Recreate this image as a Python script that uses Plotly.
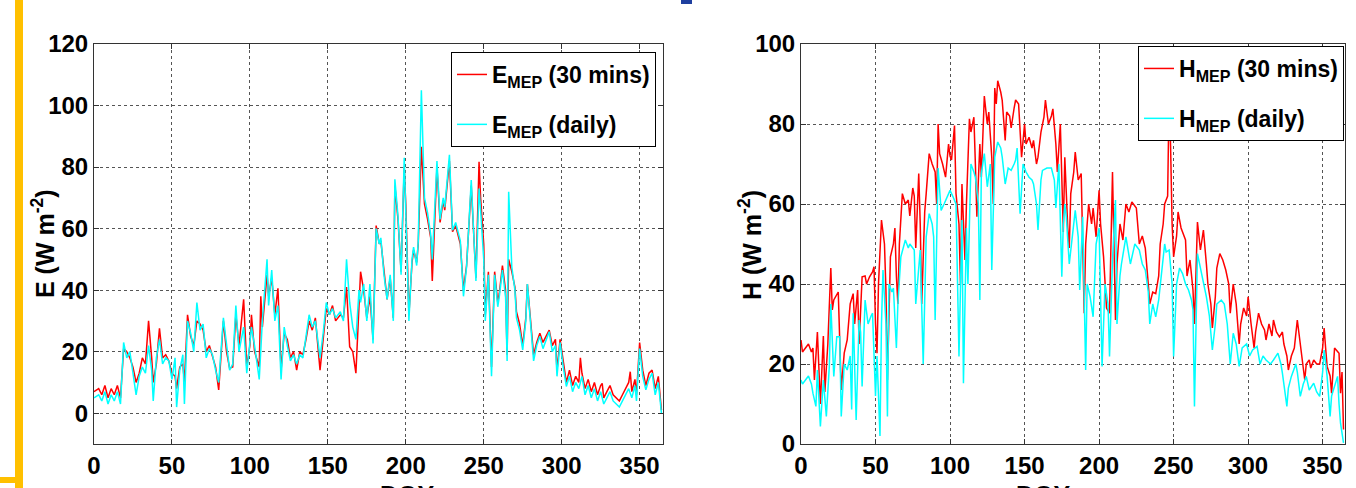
import plotly.graph_objects as go

# ---- left panel: latent heat E (W m-2) vs DOY ----
e_daily_doy = [0, 3, 5, 7, 9, 11, 13, 15, 17, 19, 21, 23, 25, 27, 29, 31, 33, 35, 37, 38, 40, 42, 44, 46, 48, 50,
               52, 53, 55, 57, 58, 60, 62, 64, 66, 68, 70, 72, 74, 76, 78, 80, 83, 85, 87, 89, 91, 93, 96, 98, 100,
               101, 103, 106, 108, 111, 112, 114, 116, 118, 120, 122, 124, 126, 128, 130, 132, 134, 136, 138, 140,
               142, 145, 147, 149, 151, 153, 155, 158, 160, 162, 164, 166, 168, 170, 171, 173, 175, 177, 179, 181,
               183, 184, 186, 188, 190, 192, 193, 195, 197, 199, 200, 202, 204, 205, 207, 208, 210, 212, 214, 216,
               217, 220, 222, 224, 225, 228, 230, 232, 235, 237, 239, 242, 245, 247, 248, 250, 251, 253, 255, 257,
               259, 260, 262, 264, 265, 266, 268, 270, 271, 273, 275, 277, 278, 280, 282, 284, 286, 288, 290, 292,
               294, 296, 297, 299, 301, 303, 305, 307, 309, 311, 313, 315, 317, 319, 321, 323, 325, 327, 329, 331,
               333, 335, 337, 339, 341, 343, 345, 347, 348, 350, 352, 354, 356, 358, 360, 362, 364]
e_daily = [5, 6, 4, 7, 3, 6, 4, 7, 3, 23, 18, 20, 13, 6, 12, 15, 13, 22, 14, 4, 18, 24, 16, 18, 17, 11,
           18, 2, 14, 19, 3, 30, 26, 20, 36, 27, 29, 18, 21, 19, 14, 10, 31, 22, 14, 16, 35, 20, 28, 13, 24,
           28, 22, 11, 30, 50, 35, 46.5, 30, 35, 11, 28, 22, 17, 19, 16, 19, 18, 25, 32, 28,
           30, 18, 26, 36, 32, 34, 31, 33, 30, 50, 36, 28, 24, 40, 36, 42, 30, 42, 22.7, 60,
           55, 57, 45, 37, 45, 30, 76, 64, 45, 83, 66, 30, 50, 54, 48, 56, 105, 70, 65, 58,
           50, 82, 63, 70, 67, 84, 59.5, 62, 56, 38, 47.6, 75.8, 43, 73, 66, 50, 30, 45, 12, 45,
           34.6, 38, 46.5, 38, 17, 72, 47.6, 40, 31, 27, 20.6, 30, 42, 28, 17, 22, 25, 21, 24, 26.5,
           20, 22, 12, 23, 15, 8.7, 12, 7, 10, 8, 12, 6, 9, 5, 8, 4, 7, 3, 5, 7,
           4, 3, 2, 4, 6, 8, 5, 9, 4, 21, 12, 7.6, 11, 13, 6, 10, 0]

e_30min_doy = [0, 3, 5, 7, 9, 11, 13, 15, 17, 19, 21, 23, 25, 27, 29, 31, 33, 35, 37, 38, 40, 42, 44, 46, 48, 50,
               52, 53, 55, 57, 58, 60, 62, 64, 66, 68, 70, 72, 74, 76, 78, 80, 83, 85, 87, 89, 91, 93, 96, 98, 100,
               101, 103, 106, 107, 108, 111, 112, 114, 116, 118, 120, 122, 124, 126, 128, 130, 132, 134, 136, 138,
               140, 142, 145, 147, 149, 151, 153, 155, 158, 160, 162, 164, 166, 168, 170, 171, 173, 175, 177, 179,
               181, 183, 184, 186, 188, 190, 192, 193, 195, 197, 199, 200, 202, 204, 205, 207, 208, 210, 212, 214,
               216, 217, 220, 222, 224, 225, 228, 230, 232, 235, 237, 239, 242, 245, 247, 248, 250, 251, 253, 255,
               257, 259, 260, 262, 264, 265, 266, 268, 270, 271, 273, 275, 277, 278, 280, 282, 284, 286, 288, 290,
               292, 294, 296, 297, 299, 301, 303, 305, 307, 309, 311, 312, 313, 315, 317, 319, 321, 323, 325, 326,
               327, 329, 331, 333, 335, 337, 339, 341, 343, 344, 345, 347, 348, 350, 352, 354, 356, 358, 360, 362, 364]
e_30min = [7, 8, 6, 9, 5, 8, 6, 9, 5, 21, 20, 18, 15, 10, 13, 18, 16, 30, 18, 10, 16, 27.6, 18, 19, 17, 13,
           12, 8, 15, 16, 10, 32, 25, 22, 30, 29, 27, 20, 22, 18, 15, 7.6, 30, 20, 14.6, 15, 32, 22, 37, 15, 22,
           32, 20, 15, 38, 28, 45, 38, 44, 32, 40.6, 14, 26, 24, 18, 20, 14, 20, 19, 24, 30,
           27, 31, 14, 24, 34, 32, 35, 30, 32, 31, 41, 21.6, 20, 13, 38, 46, 40, 31, 38, 24,
           61, 55, 56, 46, 37, 44, 31, 74, 63, 46, 80, 68, 32, 49, 53, 49, 55, 86.6, 68, 63,
           57, 43, 80, 62, 69, 66, 82, 59, 61, 55, 40, 48, 74, 44, 81.7, 70, 55, 32, 46, 15,
           46, 36, 39, 48, 40, 19, 50, 46, 41, 33, 29, 22, 31, 42, 29, 19, 23, 26, 23, 25,
           27, 22, 24, 14, 24, 17, 10, 14, 9, 12, 10, 18, 13, 8, 11, 7, 10, 6, 9, 9.7,
           5, 7, 9, 6, 5, 4, 6, 8, 10, 13.5, 7, 11, 6, 23, 14, 9, 13, 14, 8, 12, 1]

# ---- right panel: sensible heat H (W m-2) vs DOY ----
h_30min_doy = [0, 1, 3, 5, 7, 8, 9, 11, 13, 15, 16, 18, 20, 21, 22, 24, 25, 27, 29, 31, 33, 35, 36, 38, 39, 41,
               43, 44, 46, 48, 49, 50, 51, 52, 54, 56, 57, 58, 60, 62, 63, 64, 65, 66, 68, 70, 72, 73, 75, 76, 77,
               79, 80, 81, 83, 84, 86, 88, 90, 91, 92, 93, 95, 97, 99, 100, 101, 103, 104, 106, 107, 108, 110, 111,
               113, 114, 116, 117, 118, 120, 121, 123, 125, 126, 128, 129, 130, 131, 132, 134, 135, 137, 138, 140,
               141, 143, 144, 146, 148, 150, 151, 153, 155, 156, 158, 159, 161, 163, 164, 166, 168, 169, 171, 172,
               174, 176, 177, 179, 180, 181, 183, 184, 186, 188, 190, 191, 193, 195, 196, 198, 200, 201, 203, 205,
               207, 209, 211, 212, 214, 216, 218, 220, 222, 225, 227, 229, 231, 233, 234, 236, 238, 240, 241, 243,
               244, 246, 247, 248, 249, 250, 252, 253, 255, 258, 259, 261, 263, 264, 266, 268, 270, 272, 273, 275,
               276, 278, 279, 281, 283, 285, 287, 288, 290, 292, 294, 295, 297, 299, 300, 302, 304, 305, 307, 309,
               311, 312, 314, 316, 317, 319, 321, 323, 324, 326, 327, 329, 331, 333, 334, 336, 338, 339, 341, 342,
               344, 346, 348, 350, 351, 352, 353, 355, 356, 358, 360, 361, 362, 363, 364]
h_30min = [26, 23, 24, 25, 23, 24, 16, 28, 10, 27, 13, 25, 44, 33.5, 36, 37.6, 38, 13.5, 22.7, 26, 35, 37.6, 30, 38.5, 25, 41.8,
           42, 40, 41.8, 43, 44.3, 30, 22.7, 40, 56, 50, 38.5, 16, 46.8, 50, 54, 42, 35, 50, 62.6, 60, 61, 57, 64, 62, 49,
           67.6, 55, 35, 58, 62.6, 72.6, 70, 68, 60, 80, 72.6, 70, 66.7, 75, 72, 71, 79.6, 62.6, 55, 40, 65, 46, 60,
           81.3, 78, 81.7, 70, 56.8, 75, 66.7, 87, 80, 83, 71.7, 60, 89, 85, 90.8, 88, 85.9, 75.9, 83, 82,
           79, 84, 86, 85, 71.7, 80, 75, 76.7, 74, 75.9, 70, 71.7, 78, 81.7, 86, 80, 82, 83.8, 75, 68,
           80, 53, 71.7, 54, 49, 62.6, 68, 73, 66, 67.6, 32.7, 50, 60, 55, 59, 51.8, 63.4, 55, 46.8, 34,
           32.7, 68, 31, 45, 55, 51, 60, 58, 60.5, 59, 50, 52, 49, 40, 35, 38, 37.6, 42, 50, 55,
           60, 62, 87.5, 74, 55, 46.8, 52, 58, 54, 51, 42, 46, 38.5, 30, 55.5, 48.5, 53.5, 45, 40, 35,
           29, 36.8, 44, 47.6, 46, 43.5, 40, 32.7, 40, 35, 25, 30, 34, 32, 36.8, 30, 24, 28, 32.7, 30,
           28.5, 26, 30, 27, 31, 28, 26.8, 28, 25, 22, 18.5, 22, 24, 31, 28, 23.5, 16, 20, 21, 19,
           21, 20, 20, 24, 29, 24, 19.4, 17, 12.7, 24, 23, 22.7, 12.7, 18, 3.6]

h_daily_doy = [0, 1, 3, 5, 7, 8, 10, 11, 13, 15, 17, 19, 20, 22, 24, 26, 27, 29, 31, 33, 34, 35, 37, 39, 40, 41,
               43, 45, 47, 48, 50, 51, 53, 54, 55, 57, 58, 59, 61, 62, 64, 65, 67, 69, 70, 72, 73, 75, 76, 77, 79,
               80, 82, 84, 86, 88, 89, 90, 92, 94, 96, 98, 100, 102, 104, 106, 108, 109, 111, 112, 114, 116, 117,
               119, 120, 121, 123, 125, 127, 128, 130, 132, 134, 135, 137, 139, 141, 143, 144, 145, 147, 149, 151,
               153, 155, 156, 158, 159, 161, 162, 165, 168, 170, 171, 173, 175, 176, 177, 178, 180, 182, 184, 186,
               187, 189, 191, 192, 194, 196, 198, 200, 202, 204, 206, 207, 209, 211, 212, 214, 215, 218, 221, 224,
               227, 229, 231, 233, 234, 236, 238, 240, 241, 243, 244, 245, 247, 249, 250, 252, 254, 256, 258, 260,
               262, 263, 264, 266, 268, 269, 272, 274, 276, 278, 279, 282, 284, 286, 288, 290, 292, 294, 296, 299,
               301, 303, 306, 308, 310, 312, 315, 317, 320, 322, 323, 326, 327, 329, 332, 333, 335, 337, 339, 341,
               344, 346, 348, 350, 351, 353, 355, 356, 358, 360, 361, 362, 364]
h_daily = [16, 15, 16, 17, 15, 12.7, 9.4, 18.5, 4.4, 16, 6.9, 19.4, 35, 16.9, 26.8, 26.8, 6.9, 20, 18.5, 22, 8.6, 32.7, 6, 31, 28, 14.4,
           36, 30, 32, 32.7, 12, 22, 2, 30, 43.5, 30, 6.9, 40, 38, 39, 24, 35, 46.8, 50, 51, 49, 50, 49, 48.5, 35, 45,
           48.5, 20, 51.8, 57.6, 55, 51.8, 31, 69, 58.4, 60, 61.8, 63.4, 61.8, 60, 21.9, 56, 15.2, 54, 40, 70, 68, 66.7,
           60, 36, 67.6, 72.6, 64.3, 70, 43.5, 71.7, 75.5, 74, 71.7, 65, 69, 68.4, 70, 71, 74, 57.6, 70, 68,
           66.7, 66, 65, 60, 53.5, 66, 68.4, 69, 69, 66, 59, 70, 41.8, 55, 60, 56.8, 45, 52, 58.4, 51.8,
           38.5, 56.8, 18.5, 40, 36.8, 31.8, 50, 54, 19.4, 40, 35, 21.9, 46, 61, 30, 42, 45, 51.8, 45, 50,
           48.5, 45, 43.5, 38, 30, 35, 31.8, 36, 40, 46, 50, 48, 48.5, 40, 21.9, 40, 44, 42.6, 40, 38.5,
           36, 33.5, 9.4, 47.6, 44, 42.6, 36.8, 32, 23.5, 30, 35, 36, 35, 30, 20, 27.7, 25, 19.4, 24, 25,
           22, 23.5, 24.4, 20, 22, 21, 20, 21, 22.7, 20, 17.7, 9.4, 14, 16.9, 20, 18, 11.9, 15, 16.9, 13.5,
           15.2, 13, 11.9, 18, 23.5, 16.9, 6.9, 12, 14.4, 16.9, 10, 5.2, 0.3]

x_ticks = [0, 50, 100, 150, 200, 250, 300, 350]

RED = "#ff0000"
CYAN = "#00ffff"
FONT = "Liberation Sans, Arial"

fig = go.Figure()

fig.add_trace(go.Scatter(x=e_30min_doy, y=e_30min, mode="lines", line=dict(color=RED, width=1.5),
                         name="<b>E<sub>MEP</sub> (30 mins)</b>", xaxis="x", yaxis="y",
                         legend="legend", legendgroup="a"))
fig.add_trace(go.Scatter(x=e_daily_doy, y=e_daily, mode="lines", line=dict(color=CYAN, width=1.5),
                         name="<b>E<sub>MEP</sub> (daily)</b>", xaxis="x", yaxis="y",
                         legend="legend", legendgroup="b"))
fig.add_trace(go.Scatter(x=h_30min_doy, y=h_30min, mode="lines", line=dict(color=RED, width=1.5),
                         name="<b>H<sub>MEP</sub> (30 mins)</b>", xaxis="x2", yaxis="y2",
                         legend="legend2", legendgroup="c"))
fig.add_trace(go.Scatter(x=h_daily_doy, y=h_daily, mode="lines", line=dict(color=CYAN, width=1.5),
                         name="<b>H<sub>MEP</sub> (daily)</b>", xaxis="x2", yaxis="y2",
                         legend="legend2", legendgroup="d"))

W, H = 1356, 488


def ax(**kw):
    base = dict(showline=True, linecolor="#333333", linewidth=1, mirror="allticks",
                ticks="inside", ticklen=5, tickcolor="#333333", automargin=False,
                showgrid=True, gridcolor="#555555", griddash="dot", gridwidth=1,
                zeroline=False, tickfont=dict(family=FONT, size=24, color="black", weight="bold"))
    base.update(kw)
    return base


legend_style = dict(xanchor="right", yanchor="top", bgcolor="white", bordercolor="black", borderwidth=1,
                    tracegroupgap=17, font=dict(family=FONT, size=23, color="black"))

fig.update_layout(
    width=W, height=H,
    margin=dict(l=0, r=0, t=0, b=0, pad=0, autoexpand=False),
    paper_bgcolor="white", plot_bgcolor="white",
    xaxis=ax(domain=[94 / W, 663 / W], range=[0, 365], tickvals=x_ticks, anchor="y"),
    yaxis=ax(domain=[1 - 444 / H, 1 - 44 / H], range=[-10, 120], dtick=20, tick0=0, anchor="x"),
    xaxis2=ax(domain=[801 / W, 1345 / W], range=[0, 365], tickvals=x_ticks, anchor="y2"),
    yaxis2=ax(domain=[1 - 444 / H, 1 - 44 / H], range=[0, 100], dtick=20, anchor="x2"),
    legend=dict(x=656 / W, y=1 - 52 / H, **legend_style),
    legend2=dict(x=1344 / W, y=1 - 46 / H, **legend_style),
    showlegend=True,
)

# axis titles as annotations (the DOY labels are cut by the bottom edge)
title_font = dict(family=FONT, size=25, color="black")
fig.add_annotation(text="<b>E (W m<sup>-2</sup>)</b>", xref="paper", yref="paper", x=25 / W, y=1 - 244 / H,
                   textangle=-90, showarrow=False, font=title_font)
fig.add_annotation(text="<b>H (W m<sup>-2</sup>)</b>", xref="paper", yref="paper", x=750 / W, y=1 - 245 / H,
                   textangle=-90, showarrow=False, font=title_font)
fig.add_annotation(text="<b>DOY</b>", xref="paper", yref="paper", x=378 / W, y=1 - 479 / H,
                   yanchor="top", showarrow=False, font=title_font)
fig.add_annotation(text="<b>DOY</b>", xref="paper", yref="paper", x=1073 / W, y=1 - 479 / H,
                   yanchor="top", showarrow=False, font=title_font)

# slide decorations around the figure
fig.add_shape(type="rect", xref="paper", yref="paper", x0=15 / W, x1=23 / W, y0=0, y1=1,
              fillcolor="#ffc000", line_width=0, layer="below")
fig.add_shape(type="rect", xref="paper", yref="paper", x0=0, x1=15 / W, y0=1 - 483 / H, y1=1 - 477 / H,
              fillcolor="#ffc000", line_width=0, layer="below")
fig.add_shape(type="rect", xref="paper", yref="paper", x0=681 / W, x1=692 / W, y0=1 - 4 / H, y1=1,
              fillcolor="#1f3f9f", line_width=0, layer="below")

# drop the page's default body margin so the figure sits at the window corner
fig.write_html("out.html", config={"displayModeBar": False},
               post_script="document.body.style.margin='0px';")
